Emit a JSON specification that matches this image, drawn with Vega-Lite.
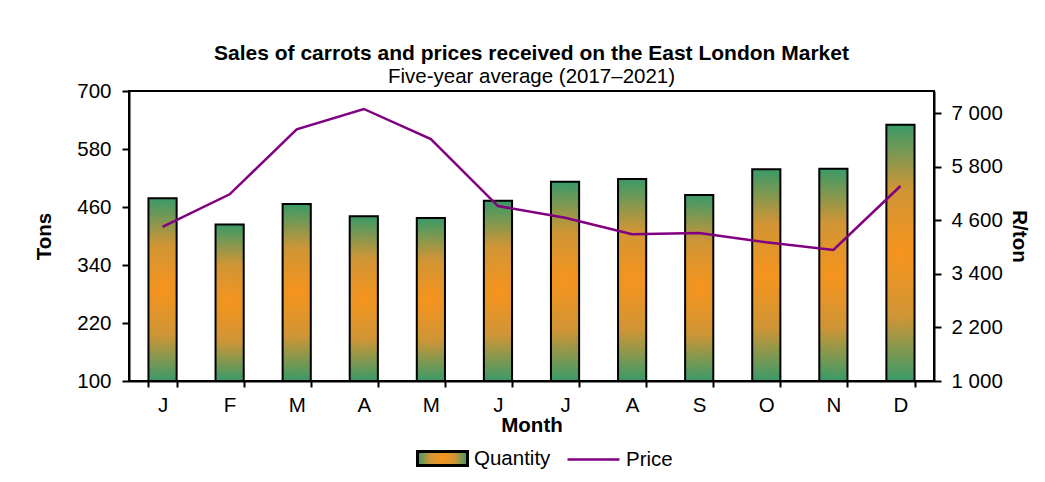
{
  "$schema": "https://vega.github.io/schema/vega-lite/v6.json",
  "width": 805,
  "height": 290,
  "autosize": {"type": "none"},
  "padding": {"left": 129, "top": 91, "right": 111, "bottom": 101},
  "background": "white",
  "config": {
    "font": "Liberation Sans",
    "view": {"stroke": "black", "strokeWidth": 2},
    "axis": {"labelFont": "Liberation Sans", "titleFont": "Liberation Sans", "labelFontSize": 20.5, "titleFontSize": 20.5, "labelColor": "black", "titleColor": "black", "domainColor": "black", "domainWidth": 2, "tickColor": "black", "tickWidth": 2, "grid": false},
    "legend": {"labelFont": "Liberation Sans", "labelFontSize": 20.5, "labelColor": "black"}
  },
  "title": {
    "text": "Sales of carrots and prices received on the East London Market",
    "subtitle": "Five-year average (2017\u20132021)",
    "font": "Liberation Sans",
    "fontSize": 21,
    "fontWeight": "bold",
    "color": "black",
    "subtitleFont": "Liberation Sans",
    "subtitleFontSize": 20.5,
    "subtitleColor": "black",
    "subtitlePadding": 3,
    "anchor": "middle",
    "offset": -6
  },
  "data": {
    "values": [
      {"idx": 1, "month": "J", "quantity": 478, "price": 4452, "q": "Quantity", "p": "Price"},
      {"idx": 2, "month": "F", "quantity": 424, "price": 5185, "q": "Quantity", "p": "Price"},
      {"idx": 3, "month": "M", "quantity": 466, "price": 6641, "q": "Quantity", "p": "Price"},
      {"idx": 4, "month": "A", "quantity": 441, "price": 7097, "q": "Quantity", "p": "Price"},
      {"idx": 5, "month": "M ", "quantity": 437, "price": 6424, "q": "Quantity", "p": "Price"},
      {"idx": 6, "month": "J ", "quantity": 473, "price": 4922, "q": "Quantity", "p": "Price"},
      {"idx": 7, "month": "J  ", "quantity": 512, "price": 4658, "q": "Quantity", "p": "Price"},
      {"idx": 8, "month": "A ", "quantity": 518, "price": 4288, "q": "Quantity", "p": "Price"},
      {"idx": 9, "month": "S", "quantity": 485, "price": 4317, "q": "Quantity", "p": "Price"},
      {"idx": 10, "month": "O", "quantity": 538, "price": 4108, "q": "Quantity", "p": "Price"},
      {"idx": 11, "month": "N", "quantity": 539, "price": 3936, "q": "Quantity", "p": "Price"},
      {"idx": 12, "month": "D", "quantity": 630, "price": 5371, "q": "Quantity", "p": "Price"}
    ]
  },
  "encoding": {
    "x": {
      "field": "month",
      "type": "nominal",
      "sort": {"field": "idx"},
      "scale": {"paddingInner": 0.58, "paddingOuter": 0.29},
      "axis": {"title": "Month", "titleFontWeight": "bold", "titlePadding": 0, "labelAngle": 0, "tickBand": "extent", "tickSize": 6, "labelPadding": 8}
    }
  },
  "layer": [
    {
      "mark": {"type": "bar", "strokeWidth": 2,
        "fill": {"gradient": "radial", "x1": 0.5, "y1": 0.5, "x2": 0.5, "y2": 0.5, "r1": 0, "r2": 0.5, "stops": [{"offset": 0, "color": "#F7941D"}, {"offset": 0.5, "color": "#CF9536"}, {"offset": 1, "color": "#3A9A68"}]}},
      "encoding": {
        "y": {
          "field": "quantity",
          "type": "quantitative",
          "scale": {"domain": [100, 700], "zero": false, "nice": false},
          "axis": {"title": "Tons", "titleFontWeight": "bold", "values": [100, 220, 340, 460, 580, 700], "tickSize": 7, "labelPadding": 11, "titlePadding": 22}
        },
        "y2": {"datum": 100},
        "stroke": {
          "field": "q",
          "type": "nominal",
          "scale": {"domain": ["Quantity"], "range": ["black"]},
          "legend": {"title": null, "orient": "none", "legendX": 287, "legendY": 341, "symbolType": "M-1,-0.28h2v0.56h-2z", "symbolSize": 2500, "symbolStrokeWidth": 3, "labelOffset": 5,
            "encode": {"symbols": {
              "update": {"fill": {"value": {"gradient": "radial", "x1": 0.5, "y1": 0.5, "x2": 0.5, "y2": 0.5, "r1": 0, "r2": 0.5, "stops": [{"offset": 0, "color": "#F7941D"}, {"offset": 0.5, "color": "#CF9536"}, {"offset": 1, "color": "#3A9A68"}]}}, "strokeWidth": {"value": 3}, "opacity": {"value": 1}}}}}
        }
      }
    },
    {
      "mark": {"type": "line", "strokeWidth": 2.5},
      "encoding": {
        "y": {
          "field": "price",
          "type": "quantitative",
          "scale": {"domain": [1000, 7500], "zero": false, "nice": false},
          "axis": {"title": "R/ton", "titleFontWeight": "bold", "orient": "right", "values": [1000, 2200, 3400, 4600, 5800, 7000], "labelExpr": "replace(format(datum.value, ',d'), ',', ' ')", "tickSize": 7, "labelPadding": 10, "titlePadding": 6}
        },
        "stroke": {
          "field": "p",
          "type": "nominal",
          "scale": {"domain": ["Price"], "range": ["#800080"]},
          "legend": {"title": null, "orient": "none", "legendX": 437, "legendY": 341, "symbolType": "stroke", "symbolSize": 2700, "symbolStrokeWidth": 2.5, "labelOffset": 5}
        }
      }
    }
  ],
  "resolve": {"scale": {"y": "independent", "stroke": "independent"}}
}
